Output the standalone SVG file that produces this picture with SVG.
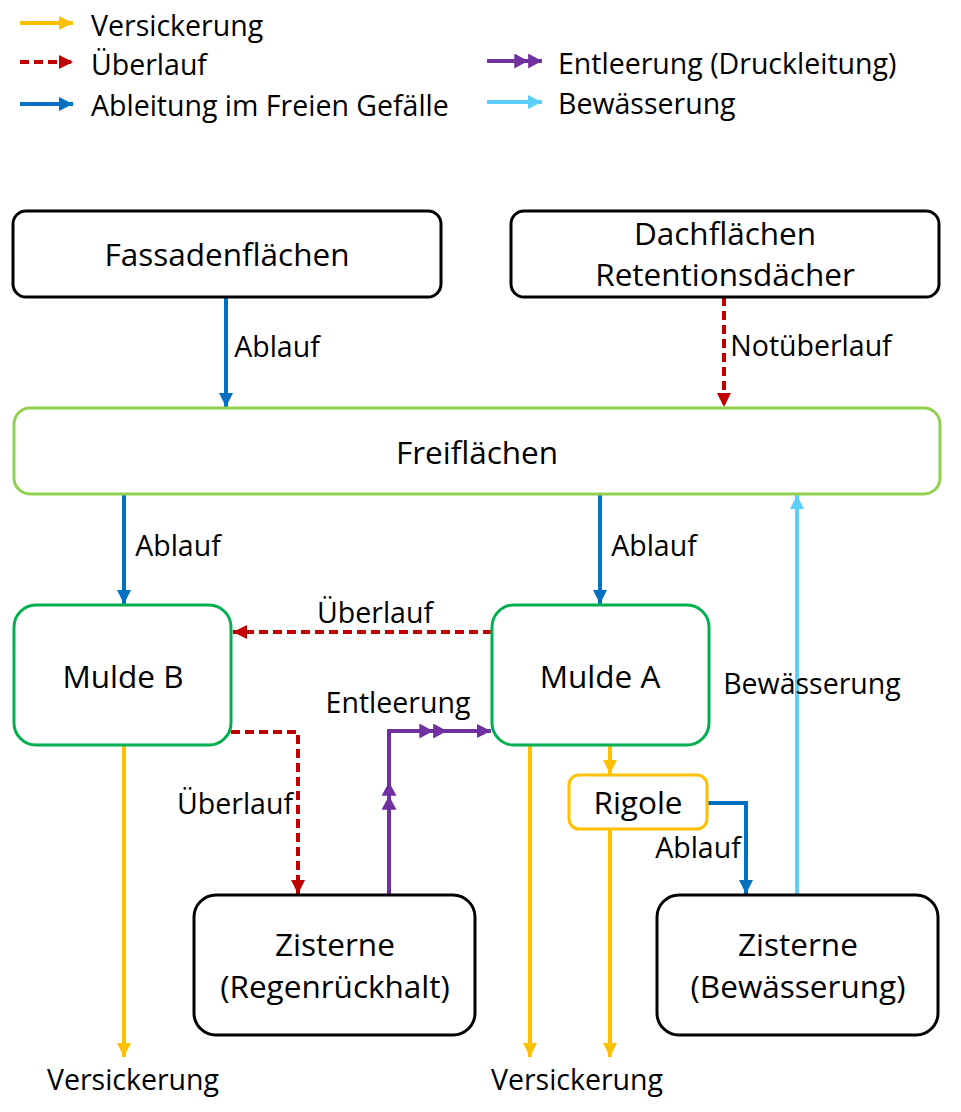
<svg xmlns="http://www.w3.org/2000/svg" width="961" height="1112" viewBox="0 0 961 1112">
<style>
text{font-family:"Open Sans","Noto Sans","DejaVu Sans",sans-serif;fill:#000}
.n{font-size:31.5px;text-anchor:middle}
.l{font-size:28.5px;text-anchor:middle}
.g{font-size:28.5px}
.box{fill:#fff;stroke-width:3}
.blk{stroke:#000}
.c{fill:none;stroke-width:4}
.y{stroke:#FFC000}
.r{stroke:#C00000;stroke-dasharray:9 5}
.b{stroke:#0070C0}
.p{stroke:#7030A0}
.lb{stroke:#5BCFFA}
</style>
<defs>
<marker id="ay" markerUnits="userSpaceOnUse" markerWidth="14" markerHeight="14" viewBox="0 0 12 12" refX="12" refY="6" orient="auto"><path d="M0,0 L12,6 L0,12 Z" fill="#FFC000"/></marker>
<marker id="ar" markerUnits="userSpaceOnUse" markerWidth="14" markerHeight="14" viewBox="0 0 12 12" refX="12" refY="6" orient="auto"><path d="M0,0 L12,6 L0,12 Z" fill="#C00000"/></marker>
<marker id="ab" markerUnits="userSpaceOnUse" markerWidth="14" markerHeight="14" viewBox="0 0 12 12" refX="12" refY="6" orient="auto"><path d="M0,0 L12,6 L0,12 Z" fill="#0070C0"/></marker>
<marker id="ap" markerUnits="userSpaceOnUse" markerWidth="14" markerHeight="14" viewBox="0 0 12 12" refX="12" refY="6" orient="auto"><path d="M0,0 L12,6 L0,12 Z" fill="#7030A0"/></marker>
<marker id="apd" markerUnits="userSpaceOnUse" markerWidth="28" markerHeight="15" viewBox="0 0 24 13" refX="24" refY="6.5" orient="auto"><path d="M0,0 L12,6.5 L0,13 Z M12,0 L24,6.5 L12,13 Z" fill="#7030A0"/></marker>
<marker id="alb" markerUnits="userSpaceOnUse" markerWidth="14" markerHeight="14" viewBox="0 0 12 12" refX="12" refY="6" orient="auto"><path d="M0,0 L12,6 L0,12 Z" fill="#5BCFFA"/></marker>
</defs>

<g id="legend">
<path class="c y" d="M20,23 H73" marker-end="url(#ay)"/>
<text class="g" x="91" y="36">Versickerung</text>
<path class="c r" d="M20,62 H73" marker-end="url(#ar)"/>
<text class="g" x="91" y="75">Überlauf</text>
<path class="c b" d="M20,104 H73" marker-end="url(#ab)"/>
<text class="g" x="91" y="116">Ableitung im Freien Gefälle</text>
<path class="c p" d="M487,61 H542" marker-end="url(#apd)"/>
<text class="g" x="558" y="74">Entleerung (Druckleitung)</text>
<path class="c lb" d="M487,102 H542" marker-end="url(#alb)"/>
<text class="g" x="558" y="114">Bewässerung</text>
</g>

<g id="connectors">
<path class="c b" d="M226,297 V407" marker-end="url(#ab)"/>
<text class="l" x="277" y="357">Ablauf</text>
<path class="c r" d="M724,297 V407" marker-end="url(#ar)"/>
<text class="l" x="811" y="356">Notüberlauf</text>
<path class="c b" d="M124,494 V604" marker-end="url(#ab)"/>
<text class="l" x="178" y="556">Ablauf</text>
<path class="c b" d="M600,494 V604" marker-end="url(#ab)"/>
<text class="l" x="654" y="556">Ablauf</text>
<path class="c r" d="M492,632 H233" marker-end="url(#ar)"/>
<text class="l" x="375" y="623">Überlauf</text>
<path class="c r" d="M231,732 H298 V894" marker-end="url(#ar)"/>
<text class="l" x="235" y="814">Überlauf</text>
<path class="c p" d="M389,894 V731 H491" marker-end="url(#ap)"/>
<path class="c p" style="stroke:none" d="M389,810 V782" marker-end="url(#apd)"/>
<path class="c p" style="stroke:none" d="M420,731 H447" marker-end="url(#apd)"/>
<text class="l" x="398" y="713">Entleerung</text>
<path class="c y" d="M124,746 V1057" marker-end="url(#ay)"/>
<text class="l" x="133" y="1090">Versickerung</text>
<path class="c y" d="M530,746 V1057" marker-end="url(#ay)"/>
<path class="c y" d="M610,746 V774" marker-end="url(#ay)"/>
<path class="c y" d="M610,829 V1057" marker-end="url(#ay)"/>
<text class="l" x="577" y="1090">Versickerung</text>
<path class="c b" d="M707,803 H746 V894" marker-end="url(#ab)"/>
<text class="l" x="698" y="858">Ablauf</text>
<path class="c lb" d="M797,894 V495" marker-end="url(#alb)"/>
<text class="l" x="812" y="694">Bewässerung</text>
</g>

<g id="fassaden">
<rect class="box blk" x="13" y="211" width="428" height="86" rx="13"/>
<text class="n" x="227" y="266">Fassadenflächen</text>
</g>
<g id="dach">
<rect class="box blk" x="511" y="211" width="428" height="86" rx="13"/>
<text class="n" x="725" y="245">Dachflächen</text>
<text class="n" x="725" y="286">Retentionsdächer</text>
</g>
<g id="freiflaechen">
<rect class="box" stroke="#92D050" x="14" y="408" width="926" height="86" rx="16"/>
<text class="n" x="477" y="464">Freiflächen</text>
</g>
<g id="muldeB">
<rect class="box" stroke="#00B050" x="14" y="605" width="217" height="140" rx="22"/>
<text class="n" x="123" y="688">Mulde B</text>
</g>
<g id="muldeA">
<rect class="box" stroke="#00B050" x="492" y="605" width="217" height="140" rx="22"/>
<text class="n" x="600" y="688">Mulde A</text>
</g>
<g id="rigole">
<rect class="box" stroke="#FFC000" x="569" y="775" width="138" height="54" rx="10"/>
<text class="n" x="638" y="814">Rigole</text>
</g>
<g id="zisterneR">
<rect class="box blk" x="194" y="895" width="281" height="140" rx="22"/>
<text class="n" x="335" y="956">Zisterne</text>
<text class="n" x="335" y="998">(Regenrückhalt)</text>
</g>
<g id="zisterneB">
<rect class="box blk" x="657" y="895" width="281" height="140" rx="22"/>
<text class="n" x="798" y="956">Zisterne</text>
<text class="n" x="798" y="998">(Bewässerung)</text>
</g>
</svg>
